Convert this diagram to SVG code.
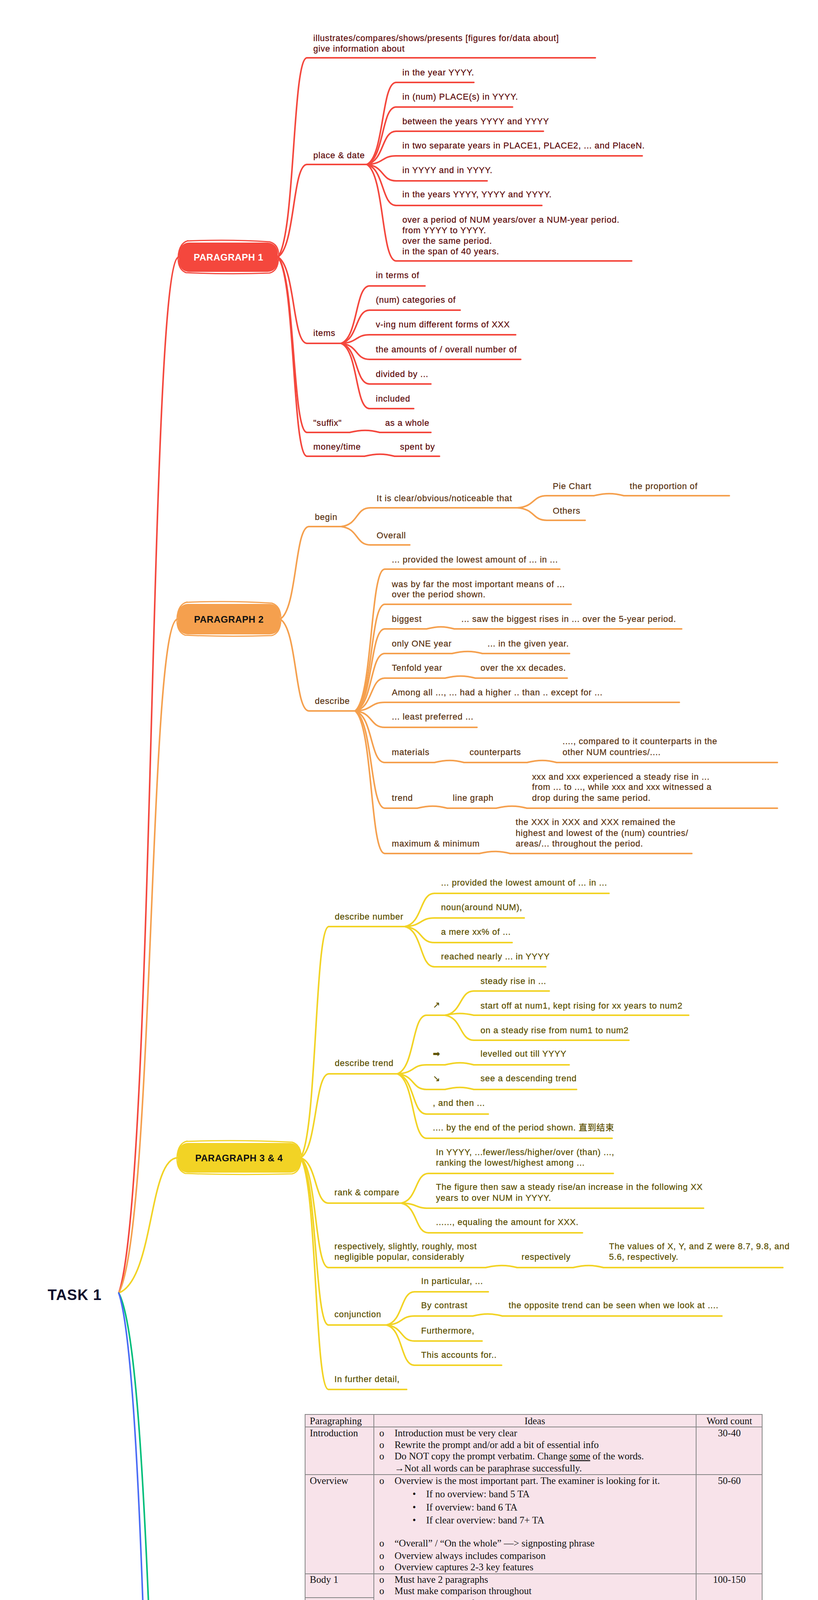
<svg xmlns="http://www.w3.org/2000/svg" width="2094" height="6079" viewBox="0 0 2094 6079">
<style>
text{font-family:"Liberation Sans","Noto Sans CJK SC",sans-serif;font-size:22px;letter-spacing:0.8px;white-space:pre;stroke-width:0.35}
.ul{fill:none;stroke-width:4;stroke-linecap:round}
.n1 .ul{stroke:#F4473D}.n1 text{fill:#5E0B0B;stroke:#5E0B0B}
.n2 .ul{stroke:#F5A04E}.n2 text{fill:#5B3311;stroke:#5B3311}
.n3 .ul{stroke:#F2D325}.n3 text{fill:#5C5000;stroke:#5C5000}
.n4 .ul{stroke:#00BE7A}.n4 text{fill:#0B5A37;stroke:#0B5A37}
.n5 .ul{stroke:#4A6CF6}.n5 text{fill:#1B2163;stroke:#1B2163}
#connectors path{fill:none;stroke-width:4;stroke-linecap:round}
.e1{stroke:#F4473D}.e2{stroke:#F5A04E}.e3{stroke:#F2D325}.e4{stroke:#00BE7A}.e5{stroke:#4A6CF6}
.main text{font-weight:bold;font-size:24px;letter-spacing:0.5px;text-anchor:middle;stroke:none}
.sk{fill:none;stroke-width:3}
.tb text{font-family:"Liberation Serif",serif;font-size:25px;letter-spacing:0;fill:#111;stroke:none}
.tb line{stroke:#858585;stroke-width:2}
</style>
<rect width="2094" height="6079" fill="#fff"/>
<g id="connectors">
<path class="e1" d="M304 3310 C396 3045 381 658 458 658"/>
<path class="e2" d="M304 3310 C395 3138 380 1585 455 1585"/>
<path class="e3" d="M304 3310 C395 3275 380 2964 455 2964"/>
<path class="e4" d="M304 3310 C395 3481 380 5017 455 5017"/>
<path class="e5" d="M304 3310 C394 3576 379 5966 454 5966"/>
<path class="e1" d="M711 658 C756 607 748 148 786 148"/>
<path class="e1" d="M711 658 C756 634 748 421 786 421"/>
<path class="e1" d="M711 658 C756 680 748 879 786 879"/>
<path class="e1" d="M711 658 C756 703 748 1107 786 1107"/>
<path class="e1" d="M711 658 C756 709 748 1168 786 1168"/>
<path class="e1" d="M939 421 C984 400 976 211 1014 211"/>
<path class="e1" d="M939 421 C984 406 976 274 1014 274"/>
<path class="e1" d="M939 421 C984 412 976 336 1014 336"/>
<path class="e1" d="M939 421 C984 419 976 399 1014 399"/>
<path class="e1" d="M939 421 C984 425 976 463 1014 463"/>
<path class="e1" d="M939 421 C984 432 976 526 1014 526"/>
<path class="e1" d="M939 421 C984 446 976 668 1014 668"/>
<path class="e1" d="M873 879 C917 864 909 732 946 732"/>
<path class="e1" d="M873 879 C917 870 909 794 946 794"/>
<path class="e1" d="M873 879 C917 877 909 857 946 857"/>
<path class="e1" d="M873 879 C917 883 909 920 946 920"/>
<path class="e1" d="M873 879 C917 889 909 983 946 983"/>
<path class="e1" d="M873 879 C917 896 909 1046 946 1046"/>
<path class="e1" d="M895 1107 C925 1100 945 1100 972 1107"/>
<path class="e1" d="M933 1168 C963 1161 983 1161 1010 1168"/>
<path class="e2" d="M717 1585 C761 1561 754 1348 791 1348"/>
<path class="e2" d="M717 1585 C761 1609 754 1820 791 1820"/>
<path class="e2" d="M873 1348 C918 1343 910 1300 948 1300"/>
<path class="e2" d="M873 1348 C918 1353 910 1395 948 1395"/>
<path class="e2" d="M1324 1300 C1370 1297 1362 1269 1400 1269"/>
<path class="e2" d="M1324 1300 C1370 1303 1362 1332 1400 1332"/>
<path class="e2" d="M1520 1269 C1550 1262 1570 1262 1597 1269"/>
<path class="e2" d="M909 1820 C955 1784 947 1457 985 1457"/>
<path class="e2" d="M909 1820 C955 1793 947 1547 985 1547"/>
<path class="e2" d="M909 1820 C955 1799 947 1610 985 1610"/>
<path class="e2" d="M909 1820 C955 1805 947 1673 985 1673"/>
<path class="e2" d="M909 1820 C955 1812 947 1736 985 1736"/>
<path class="e2" d="M909 1820 C955 1818 947 1798 985 1798"/>
<path class="e2" d="M909 1820 C955 1824 947 1862 985 1862"/>
<path class="e2" d="M909 1820 C955 1833 947 1952 985 1952"/>
<path class="e2" d="M909 1820 C955 1845 947 2069 985 2069"/>
<path class="e2" d="M909 1820 C955 1857 947 2185 985 2185"/>
<path class="e2" d="M1092 1610 C1122 1603 1136 1603 1163 1610"/>
<path class="e2" d="M1157 1673 C1187 1666 1208 1666 1235 1673"/>
<path class="e2" d="M1139 1736 C1169 1729 1190 1729 1217 1736"/>
<path class="e2" d="M1112 1952 C1142 1945 1161 1945 1188 1952"/>
<path class="e2" d="M1349 1952 C1379 1945 1398 1945 1425 1952"/>
<path class="e2" d="M1068 2069 C1098 2062 1118 2062 1145 2069"/>
<path class="e2" d="M1270 2069 C1300 2062 1322 2062 1349 2069"/>
<path class="e2" d="M1227 2185 C1257 2178 1279 2178 1306 2185"/>
<path class="e3" d="M769 2964 C812 2905 805 2372 842 2372"/>
<path class="e3" d="M769 2964 C812 2943 805 2749 842 2749"/>
<path class="e3" d="M769 2964 C812 2976 805 3080 841 3080"/>
<path class="e3" d="M769 2964 C812 2992 805 3245 841 3245"/>
<path class="e3" d="M769 2964 C812 3007 805 3392 841 3392"/>
<path class="e3" d="M769 2964 C812 3023 805 3557 841 3557"/>
<path class="e3" d="M1036 2372 C1082 2364 1074 2287 1112 2287"/>
<path class="e3" d="M1036 2372 C1082 2370 1074 2350 1112 2350"/>
<path class="e3" d="M1036 2372 C1082 2376 1074 2413 1112 2413"/>
<path class="e3" d="M1036 2372 C1082 2382 1074 2475 1112 2475"/>
<path class="e3" d="M1017 2749 C1062 2734 1054 2599 1092 2599"/>
<path class="e3" d="M1017 2749 C1062 2747 1054 2726 1092 2726"/>
<path class="e3" d="M1017 2749 C1062 2753 1054 2789 1092 2789"/>
<path class="e3" d="M1017 2749 C1062 2759 1054 2852 1092 2852"/>
<path class="e3" d="M1017 2749 C1062 2766 1054 2914 1092 2914"/>
<path class="e3" d="M1139 2599 C1183 2593 1176 2537 1213 2537"/>
<path class="e3" d="M1139 2599 C1170 2593 1186 2593 1213 2599"/>
<path class="e3" d="M1139 2599 C1183 2605 1176 2663 1213 2663"/>
<path class="e3" d="M1139 2726 C1169 2719 1186 2719 1213 2726"/>
<path class="e3" d="M1139 2789 C1169 2782 1186 2782 1213 2789"/>
<path class="e3" d="M1027 3080 C1069 3072 1062 3004 1097 3004"/>
<path class="e3" d="M1027 3080 C1069 3081 1062 3093 1097 3093"/>
<path class="e3" d="M1027 3080 C1069 3088 1062 3156 1097 3156"/>
<path class="e3" d="M1243 3245 C1273 3238 1297 3238 1324 3245"/>
<path class="e3" d="M1467 3245 C1497 3238 1518 3238 1545 3245"/>
<path class="e3" d="M989 3392 C1032 3384 1025 3307 1061 3307"/>
<path class="e3" d="M989 3392 C1032 3390 1025 3369 1061 3369"/>
<path class="e3" d="M989 3392 C1032 3396 1025 3433 1061 3433"/>
<path class="e3" d="M989 3392 C1032 3402 1025 3495 1061 3495"/>
<path class="e3" d="M1210 3369 C1240 3362 1259 3362 1286 3369"/>
<path class="e4" d="M688 5017 C734 4935 727 4196 764 4196"/>
<path class="e4" d="M688 5017 C734 5006 727 4911 766 4911"/>
<path class="e4" d="M688 5017 C734 5063 727 5476 765 5476"/>
<path class="e4" d="M688 5017 C734 5099 727 5839 765 5839"/>
<path class="e4" d="M857 4911 C901 4876 894 4556 929 4556"/>
<path class="e4" d="M857 4911 C901 4915 895 4951 934 4951"/>
<path class="e4" d="M857 4911 C901 4921 895 5015 934 5015"/>
<path class="e4" d="M857 4911 C901 4928 895 5078 934 5078"/>
<path class="e4" d="M857 4911 C901 4934 895 5141 934 5141"/>
<path class="e4" d="M857 4911 C901 4940 895 5204 934 5204"/>
<path class="e4" d="M857 4911 C901 4947 895 5267 934 5267"/>
<path class="e4" d="M1057 4556 C1102 4526 1095 4258 1132 4258"/>
<path class="e4" d="M1057 4556 C1102 4533 1095 4322 1132 4322"/>
<path class="e4" d="M1057 4556 C1102 4554 1095 4533 1132 4533"/>
<path class="e4" d="M1057 4556 C1102 4579 1095 4789 1132 4789"/>
<path class="e4" d="M1300 4533 C1342 4521 1335 4411 1370 4411"/>
<path class="e4" d="M1300 4533 C1342 4527 1335 4475 1370 4475"/>
<path class="e4" d="M1300 4533 C1342 4536 1335 4564 1370 4564"/>
<path class="e4" d="M1300 4533 C1342 4545 1335 4655 1370 4655"/>
<path class="e4" d="M1257 4789 C1296 4785 1290 4744 1322 4744"/>
<path class="e4" d="M1257 4789 C1296 4794 1290 4834 1322 4834"/>
<path class="e4" d="M1071 4951 C1101 4944 1118 4944 1145 4951"/>
<path class="e4" d="M848 5476 C890 5461 883 5329 918 5329"/>
<path class="e4" d="M848 5476 C890 5468 883 5391 918 5391"/>
<path class="e4" d="M848 5476 C890 5474 883 5454 918 5454"/>
<path class="e4" d="M848 5476 C890 5480 883 5517 918 5517"/>
<path class="e4" d="M848 5476 C890 5487 883 5581 918 5581"/>
<path class="e4" d="M848 5476 C890 5493 883 5643 918 5643"/>
<path class="e4" d="M848 5839 C878 5832 897 5832 924 5839"/>
<path class="e5" d="M646 5966 C676 5959 696 5959 723 5966"/>
<path class="e5" d="M898 5966 C928 5959 949 5959 976 5966"/>
</g>

<g id="root"><text x="122" y="3328" style="font-size:38px;font-weight:bold;letter-spacing:1px;fill:#0E0E2C;stroke:none">TASK 1</text></g>

<g id="paragraph1" class="main">
<rect x="458" y="621" width="253" height="75" rx="26" fill="#F4473D"/>
<path class="sk" stroke="#F4473D" d="M478 617 Q585 612 690 619 Q716 626 713 660 Q712 694 690 699 Q585 703 476 698 Q455 690 456 658 Q458 622 482 616"/>
<text x="585" y="667" fill="#fff">PARAGRAPH 1</text>
</g>
<g id="p1-illustrates" class="n1"><text x="802" y="105">illustrates/compares/shows/presents [figures for/data about]</text><text x="802" y="132">give information about</text><path class="ul" d="M786 148H1524"/></g>
<g id="p1-place-date" class="n1"><text x="802" y="405">place &amp; date</text><path class="ul" d="M786 421H939"/></g>
<g id="p1-pd1" class="n1"><text x="1030" y="193">in the year YYYY.</text><path class="ul" d="M1014 211H1213"/></g>
<g id="p1-pd2" class="n1"><text x="1030" y="255">in (num) PLACE(s) in YYYY.</text><path class="ul" d="M1014 274H1312"/></g>
<g id="p1-pd3" class="n1"><text x="1030" y="318">between the years YYYY and YYYY</text><path class="ul" d="M1014 336H1391"/></g>
<g id="p1-pd4" class="n1"><text x="1030" y="380">in two separate years in PLACE1, PLACE2, ... and PlaceN.</text><path class="ul" d="M1014 399H1644"/></g>
<g id="p1-pd5" class="n1"><text x="1030" y="443">in YYYY and in YYYY.</text><path class="ul" d="M1014 463H1247"/></g>
<g id="p1-pd6" class="n1"><text x="1030" y="505">in the years YYYY, YYYY and YYYY.</text><path class="ul" d="M1014 526H1387"/></g>
<g id="p1-pd7" class="n1"><text x="1030" y="570">over a period of NUM years/over a NUM-year period.</text><text x="1030" y="597">from YYYY to YYYY.</text><text x="1030" y="624">over the same period.</text><text x="1030" y="651">in the span of 40 years.</text><path class="ul" d="M1014 668H1617"/></g>
<g id="p1-items" class="n1"><text x="802" y="860">items</text><path class="ul" d="M786 879H873"/></g>
<g id="p1-it1" class="n1"><text x="962" y="712">in terms of</text><path class="ul" d="M946 732H1088"/></g>
<g id="p1-it2" class="n1"><text x="962" y="775">(num) categories of</text><path class="ul" d="M946 794H1178"/></g>
<g id="p1-it3" class="n1"><text x="962" y="838">v-ing num different forms of XXX</text><path class="ul" d="M946 857H1320"/></g>
<g id="p1-it4" class="n1"><text x="962" y="902">the amounts of / overall number of</text><path class="ul" d="M946 920H1333"/></g>
<g id="p1-it5" class="n1"><text x="962" y="965">divided by ...</text><path class="ul" d="M946 983H1103"/></g>
<g id="p1-it6" class="n1"><text x="962" y="1028">included</text><path class="ul" d="M946 1046H1059"/></g>
<g id="p1-suffix" class="n1"><text x="802" y="1090">"suffix"</text><path class="ul" d="M786 1107H895"/></g>
<g id="p1-whole" class="n1"><text x="986" y="1090">as a whole</text><path class="ul" d="M972 1107H1103"/></g>
<g id="p1-money" class="n1"><text x="802" y="1151">money/time</text><path class="ul" d="M786 1168H933"/></g>
<g id="p1-spent" class="n1"><text x="1024" y="1151">spent by</text><path class="ul" d="M1010 1168H1125"/></g>

<g id="paragraph2" class="main">
<rect x="455" y="1546" width="262" height="78" rx="26" fill="#F5A04E"/>
<path class="sk" stroke="#F5A04E" d="M476 1542 Q585 1537 696 1544 Q720 1552 719 1586 Q718 1621 696 1627 Q585 1631 474 1626 Q452 1618 453 1584 Q455 1546 480 1541"/>
<text x="586" y="1594" fill="#111">PARAGRAPH 2</text>
</g>
<g id="p2-begin" class="n2"><text x="806" y="1331">begin</text><path class="ul" d="M791 1348H873"/></g>
<g id="p2-clear" class="n2"><text x="964" y="1283">It is clear/obvious/noticeable that</text><path class="ul" d="M948 1300H1324"/></g>
<g id="p2-pie" class="n2"><text x="1415" y="1252">Pie Chart</text><path class="ul" d="M1400 1269H1520"/></g>
<g id="p2-proportion" class="n2"><text x="1612" y="1252">the proportion of</text><path class="ul" d="M1597 1269H1867"/></g>
<g id="p2-others" class="n2"><text x="1415" y="1315">Others</text><path class="ul" d="M1400 1332H1498"/></g>
<g id="p2-overall" class="n2"><text x="964" y="1378">Overall</text><path class="ul" d="M948 1395H1049"/></g>
<g id="p2-describe" class="n2"><text x="806" y="1802">describe</text><path class="ul" d="M791 1820H909"/></g>
<g id="p2-d1" class="n2"><text x="1003" y="1440">... provided the lowest amount of ... in ...</text><path class="ul" d="M985 1457H1433"/></g>
<g id="p2-d2" class="n2"><text x="1003" y="1503">was by far the most important means of ...</text><text x="1003" y="1529">over the period shown.</text><path class="ul" d="M985 1547H1462"/></g>
<g id="p2-biggest" class="n2"><text x="1003" y="1592">biggest</text><path class="ul" d="M985 1610H1092"/></g>
<g id="p2-biggest1" class="n2"><text x="1181" y="1592">... saw the biggest rises in ... over the 5-year period.</text><path class="ul" d="M1163 1610H1745"/></g>
<g id="p2-one" class="n2"><text x="1003" y="1655">only ONE year</text><path class="ul" d="M985 1673H1157"/></g>
<g id="p2-one1" class="n2"><text x="1248" y="1655">... in the given year.</text><path class="ul" d="M1235 1673H1458"/></g>
<g id="p2-tenfold" class="n2"><text x="1003" y="1717">Tenfold year</text><path class="ul" d="M985 1736H1139"/></g>
<g id="p2-tenfold1" class="n2"><text x="1230" y="1717">over the xx decades.</text><path class="ul" d="M1217 1736H1452"/></g>
<g id="p2-among" class="n2"><text x="1003" y="1780">Among all ..., ... had a higher .. than .. except for ...</text><path class="ul" d="M985 1798H1739"/></g>
<g id="p2-least" class="n2"><text x="1003" y="1842">... least preferred ...</text><path class="ul" d="M985 1862H1221"/></g>
<g id="p2-materials" class="n2"><text x="1003" y="1933">materials</text><path class="ul" d="M985 1952H1112"/></g>
<g id="p2-counterparts" class="n2"><text x="1202" y="1933">counterparts</text><path class="ul" d="M1188 1952H1349"/></g>
<g id="p2-compared" class="n2"><text x="1440" y="1905">...., compared to it counterparts in the</text><text x="1440" y="1933">other NUM countries/....</text><path class="ul" d="M1425 1952H1990"/></g>
<g id="p2-trend" class="n2"><text x="1003" y="2050">trend</text><path class="ul" d="M985 2069H1068"/></g>
<g id="p2-linegraph" class="n2"><text x="1159" y="2050">line graph</text><path class="ul" d="M1145 2069H1270"/></g>
<g id="p2-steady" class="n2"><text x="1362" y="1996">xxx and xxx experienced a steady rise in ...</text><text x="1362" y="2022">from ... to ..., while xxx and xxx witnessed a</text><text x="1362" y="2050">drop during the same period.</text><path class="ul" d="M1349 2069H1990"/></g>
<g id="p2-maxmin" class="n2"><text x="1003" y="2167">maximum &amp; minimum</text><path class="ul" d="M985 2185H1227"/></g>
<g id="p2-maxmin1" class="n2"><text x="1320" y="2112">the XXX in XXX and XXX remained the</text><text x="1320" y="2140">highest and lowest of the (num) countries/</text><text x="1320" y="2167">areas/... throughout the period.</text><path class="ul" d="M1306 2185H1771"/></g>

<g id="paragraph34" class="main">
<rect x="455" y="2926" width="314" height="76" rx="26" fill="#F2D325"/>
<path class="sk" stroke="#F2D325" d="M476 2922 Q610 2917 748 2924 Q772 2932 771 2965 Q770 2999 748 3005 Q610 3009 474 3004 Q452 2996 453 2963 Q455 2926 480 2921"/>
<text x="612" y="2973" fill="#111">PARAGRAPH 3 &amp; 4</text>
</g>
<g id="p3-number" class="n3"><text x="857" y="2354">describe number</text><path class="ul" d="M842 2372H1036"/></g>
<g id="p3-n1" class="n3"><text x="1129" y="2267">... provided the lowest amount of ... in ...</text><path class="ul" d="M1112 2287H1559"/></g>
<g id="p3-n2" class="n3"><text x="1129" y="2330">noun(around NUM),</text><path class="ul" d="M1112 2350H1342"/></g>
<g id="p3-n3" class="n3"><text x="1129" y="2393">a mere xx% of ...</text><path class="ul" d="M1112 2413H1311"/></g>
<g id="p3-n4" class="n3"><text x="1129" y="2456">reached nearly ... in YYYY</text><path class="ul" d="M1112 2475H1397"/></g>
<g id="p3-trend" class="n3"><text x="857" y="2729">describe trend</text><path class="ul" d="M842 2749H1017"/></g>
<g id="p3-up" class="n3"><text x="1108" y="2580" style="font-family:'DejaVu Sans',sans-serif">↗</text><path class="ul" d="M1092 2599H1139"/></g>
<g id="p3-up1" class="n3"><text x="1230" y="2519">steady rise in ...</text><path class="ul" d="M1213 2537H1406"/></g>
<g id="p3-up2" class="n3"><text x="1230" y="2582">start off at num1, kept rising for xx years to num2</text><path class="ul" d="M1213 2599H1763"/></g>
<g id="p3-up3" class="n3"><text x="1230" y="2645">on a steady rise from num1 to num2</text><path class="ul" d="M1213 2663H1610"/></g>
<g id="p3-flat" class="n3"><text x="1108" y="2705" style="font-family:'DejaVu Sans',sans-serif">➡</text><path class="ul" d="M1092 2726H1139"/></g>
<g id="p3-flat1" class="n3"><text x="1230" y="2705">levelled out till YYYY</text><path class="ul" d="M1213 2726H1457"/></g>
<g id="p3-down" class="n3"><text x="1108" y="2768" style="font-family:'DejaVu Sans',sans-serif">↘</text><path class="ul" d="M1092 2789H1139"/></g>
<g id="p3-down1" class="n3"><text x="1230" y="2768">see a descending trend</text><path class="ul" d="M1213 2789H1476"/></g>
<g id="p3-then" class="n3"><text x="1108" y="2831">, and then ...</text><path class="ul" d="M1092 2852H1250"/></g>
<g id="p3-end" class="n3"><text x="1108" y="2894">.... by the end of the period shown. 直到结束</text><path class="ul" d="M1092 2914H1567"/></g>
<g id="p3-rank" class="n3"><text x="856" y="3060">rank &amp; compare</text><path class="ul" d="M841 3080H1027"/></g>
<g id="p3-r1" class="n3"><text x="1116" y="2957">In YYYY, ...fewer/less/higher/over (than) ...,</text><text x="1116" y="2984">ranking the lowest/highest among ...</text><path class="ul" d="M1097 3004H1570"/></g>
<g id="p3-r2" class="n3"><text x="1116" y="3046">The figure then saw a steady rise/an increase in the following XX</text><text x="1116" y="3074">years to over NUM in YYYY.</text><path class="ul" d="M1097 3093H1801"/></g>
<g id="p3-r3" class="n3"><text x="1116" y="3136">......, equaling the amount for XXX.</text><path class="ul" d="M1097 3156H1491"/></g>
<g id="p3-resp" class="n3"><text x="856" y="3198">respectively, slightly, roughly, most</text><text x="856" y="3225">negligible popular, considerably</text><path class="ul" d="M841 3245H1243"/></g>
<g id="p3-resp1" class="n3"><text x="1335" y="3225">respectively</text><path class="ul" d="M1324 3245H1467"/></g>
<g id="p3-resp2" class="n3"><text x="1559" y="3198">The values of X, Y, and Z were 8.7, 9.8, and</text><text x="1559" y="3225">5.6, respectively.</text><path class="ul" d="M1545 3245H2004"/></g>
<g id="p3-conj" class="n3"><text x="856" y="3372">conjunction</text><path class="ul" d="M841 3392H989"/></g>
<g id="p3-c1" class="n3"><text x="1078" y="3287">In particular, ...</text><path class="ul" d="M1061 3307H1250"/></g>
<g id="p3-c2" class="n3"><text x="1078" y="3349">By contrast</text><path class="ul" d="M1061 3369H1210"/></g>
<g id="p3-c2a" class="n3"><text x="1302" y="3349">the opposite trend can be seen when we look at ....</text><path class="ul" d="M1286 3369H1848"/></g>
<g id="p3-c3" class="n3"><text x="1078" y="3414">Furthermore,</text><path class="ul" d="M1061 3433H1234"/></g>
<g id="p3-c4" class="n3"><text x="1078" y="3476">This accounts for..</text><path class="ul" d="M1061 3495H1284"/></g>
<g id="p3-further" class="n3"><text x="856" y="3538">In further detail,</text><path class="ul" d="M841 3557H1041"/></g>

<g id="m-table" class="n4 tb">
<rect x="781" y="3621" width="1170" height="561" fill="#F8E3EA" stroke="#858585" stroke-width="2"/>
<line x1="957" y1="3621" x2="957" y2="4182"/>
<line x1="1782" y1="3621" x2="1782" y2="4182"/>
<line x1="781" y1="3653" x2="1951" y2="3653"/>
<line x1="781" y1="3775" x2="1951" y2="3775"/>
<line x1="781" y1="4029" x2="1951" y2="4029"/>
<line x1="781" y1="4090" x2="957" y2="4090"/>
<line x1="781" y1="4152" x2="1951" y2="4152"/>
<text x="793" y="3646">Paragraphing</text>
<text x="1369" y="3646" text-anchor="middle">Ideas</text>
<text x="1867" y="3646" text-anchor="middle">Word count</text>
<text x="793" y="3677">Introduction</text>
<text x="971" y="3677">o</text><text x="1010" y="3677">Introduction must be very clear</text>
<text x="971" y="3707">o</text><text x="1010" y="3707">Rewrite the prompt and/or add a bit of essential info</text>
<text x="971" y="3736">o</text><text x="1010" y="3736">Do NOT copy the prompt verbatim. Change <tspan text-decoration="underline">some</tspan> of the words.</text>
<text x="1010" y="3767">→Not all words can be paraphrase successfully.</text>
<text x="1867" y="3677" text-anchor="middle">30-40</text>
<text x="793" y="3799">Overview</text>
<text x="971" y="3799">o</text><text x="1010" y="3799">Overview is the most important part. The examiner is looking for it.</text>
<text x="1056" y="3833">•</text><text x="1091" y="3833">If no overview: band 5 TA</text>
<text x="1056" y="3867">•</text><text x="1091" y="3867">If overview: band 6 TA</text>
<text x="1056" y="3900">•</text><text x="1091" y="3900">If clear overview: band 7+ TA</text>
<text x="971" y="3959">o</text><text x="1010" y="3959">“Overall” / “On the whole” —&gt; signposting phrase</text>
<text x="971" y="3991">o</text><text x="1010" y="3991">Overview always includes comparison</text>
<text x="971" y="4020">o</text><text x="1010" y="4020">Overview captures 2-3 key features</text>
<text x="1867" y="3799" text-anchor="middle">50-60</text>
<text x="793" y="4052">Body 1</text>
<text x="793" y="4113">Body 2</text>
<text x="971" y="4052">o</text><text x="1010" y="4052">Must have 2 paragraphs</text>
<text x="971" y="4081">o</text><text x="1010" y="4081">Must make comparison throughout</text>
<text x="1010" y="4113">→ Unless not specified in the topic</text>
<text x="971" y="4142">o</text><text x="1010" y="4142">Must include specific data to support comparison</text>
<text x="1867" y="4052" text-anchor="middle">100-150</text>
<text x="793" y="4174">Conclusion</text>
<text x="968" y="4174">Optional</text>
<text x="1867" y="4174" text-anchor="middle">/</text>
<path class="ul" d="M764 4196H1967"/>
</g>

<g id="materials" class="main">
<rect x="455" y="4978" width="233" height="78" rx="26" fill="#00BE7A"/>
<path class="sk" stroke="#00BE7A" d="M476 4974 Q571 4969 667 4976 Q691 4984 690 5018 Q689 5053 667 5059 Q571 5063 474 5058 Q452 5050 453 5016 Q455 4978 480 4973"/>
<text x="571" y="5026" fill="#111">MATERIALS</text>
</g>
<g id="m-pie" class="n4"><text x="948" y="4539">- pie chat</text><path class="ul" d="M929 4556H1057"/></g>
<g id="m-pie1" class="n4"><text x="1148" y="4241">XX% of an average ... went on ..., while the equivalent figure for ... was XXX%.</text><path class="ul" d="M1132 4258H1967"/></g>
<g id="m-pie2" class="n4"><text x="1148" y="4304">ITEM1 spent only half as much in relative terms on ...(XX%) as ITEM2(XX%).</text><path class="ul" d="M1132 4322H1967"/></g>
<g id="m-para3" class="n4"><text x="1155" y="4515">Paragraph 3+</text><path class="ul" d="M1132 4533H1300"/></g>
<g id="m-p3a" class="n4"><text x="1389" y="4368">Looking at the information in more detail, we can see</text><text x="1389" y="4394">that XX% of ..., and XX% of ..</text><path class="ul" d="M1370 4411H1986"/></g>
<g id="m-p3b" class="n4"><text x="1389" y="4458">In ... sector, almost half of ... (50±%) ...</text><path class="ul" d="M1370 4475H1808"/></g>
<g id="m-p3c" class="n4"><text x="1389" y="4521">... was the second most ..., with xx% of ...,</text><text x="1389" y="4547">followed by ..., with xx%.</text><path class="ul" d="M1370 4564H1843"/></g>
<g id="m-p3d" class="n4"><text x="1389" y="4611">while the figure for ... is XX% higher, at</text><text x="1389" y="4637">XX%.</text><path class="ul" d="M1370 4655H1810"/></g>
<g id="m-contrast" class="n4"><text x="1148" y="4772">contrast</text><path class="ul" d="M1132 4789H1257"/></g>
<g id="m-ct1" class="n4"><text x="1341" y="4700">Paragraph 3 -- Looking at the positive responses first, ...</text><text x="1341" y="4727">Paragraph 4 -- With regard to negative feedback, ...</text><path class="ul" d="M1322 4744H2005"/></g>
<g id="m-ct2" class="n4"><text x="1341" y="4790">Such dramatic differences are not seen when we compare the</text><text x="1341" y="4817">figures for ...</text><path class="ul" d="M1322 4834H2000"/></g>
<g id="m-topics" class="n4"><text x="779" y="4892">topics</text><path class="ul" d="M766 4911H857"/></g>
<g id="m-line" class="n4"><text x="946" y="4932">- line graph</text><path class="ul" d="M934 4951H1071"/></g>
<g id="m-line1" class="n4"><text x="1165" y="4878">初始值（第一年）</text><text x="1165" y="4903">趋势（上升/下降/the figure plateaued in the following/subsequent NUM years.）</text><text x="1165" y="4932">交点/(被)反超.   ...., being overtaken by XXX in around YYYY.</text><path class="ul" d="M1145 4951H1990"/></g>
<g id="m-bar" class="n4"><text x="946" y="4995">- bar chart</text><path class="ul" d="M934 5015H1071"/></g>
<g id="m-tab" class="n4"><text x="946" y="5058">- table</text><path class="ul" d="M934 5078H1031"/></g>
<g id="m-flow" class="n4"><text x="946" y="5121">- flow chart</text><path class="ul" d="M934 5141H1083"/></g>
<g id="m-map" class="n4"><text x="946" y="5185">- map</text><path class="ul" d="M934 5204H1021"/></g>
<g id="m-picture" class="n4"><text x="946" y="5248">- picture</text><path class="ul" d="M934 5267H1050"/></g>
<g id="m-units" class="n4"><text x="780" y="5458">units</text><path class="ul" d="M765 5476H848"/></g>
<g id="m-u1" class="n4"><text x="936" y="5309">100℃ = 100 degrees Celsius</text><path class="ul" d="M918 5329H1223"/></g>
<g id="m-u2" class="n4"><text x="936" y="5372">100㎡ = 100 square meters</text><path class="ul" d="M918 5391H1210"/></g>
<g id="m-u3" class="n4"><text x="936" y="5436">100m³ = 100 cubic meters</text><path class="ul" d="M918 5454H1202"/></g>
<g id="m-u4" class="n4"><text x="936" y="5498">100£ = 100 pounds</text><path class="ul" d="M918 5517H1131"/></g>
<g id="m-u5" class="n4"><text x="936" y="5562">100℉ = (at) 100 degrees Fahrenheit</text><path class="ul" d="M918 5581H1300"/></g>
<g id="m-u6" class="n4"><text x="936" y="5625">each person in XXX == the quantity per person in XXX</text><path class="ul" d="M918 5643H1662"/></g>
<g id="m-notes" class="n4"><text x="780" y="5821">notes</text><path class="ul" d="M765 5839H848"/></g>
<g id="m-notes1" class="n4"><text x="941" y="5687">In academic writing, words</text><text x="941" y="5713">should be used for numbers</text><text x="941" y="5740">from zero through nine, and</text><text x="941" y="5768">numerals should be used from</text><text x="941" y="5795">10 onwards. {Lexical Accuracy (</text><text x="941" y="5821">LR)}</text><path class="ul" d="M924 5839H1273"/></g>

<g id="others" class="main">
<rect x="454" y="5926" width="192" height="78" rx="26" fill="#4A6CF6"/>
<path class="sk" stroke="#4A6CF6" d="M475 5922 Q550 5917 625 5924 Q649 5932 648 5966 Q647 6001 625 6007 Q550 6011 473 6006 Q451 5998 452 5964 Q454 5926 479 5921"/>
<text x="550" y="5975" fill="#fff">OTHERS</text>
</g>
<g id="o-p34" class="n5"><text x="736" y="5948">Paragraph3 &amp; 4</text><path class="ul" d="M723 5966H898"/></g>
<g id="o-p34a" class="n5"><text x="990" y="5919">主语不一样（多样性）：所指对象(CO2)/主体(</text><text x="990" y="5948">countries)/数据(the figure/It)/ 改写</text><path class="ul" d="M976 5966H1441"/></g>
</svg>
